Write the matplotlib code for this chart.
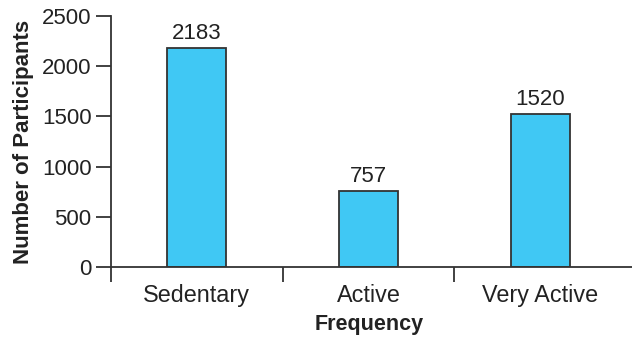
import matplotlib.pyplot as plt
import numpy as np

plt.rcParams['font.family'] = ['Liberation Sans', 'DejaVu Sans']

categories = ['Sedentary', 'Active', 'Very Active']
participants = [2183, 757, 1520]

bar_color = '#40c8f4'
line_color = '#333333'

fig = plt.figure(figsize=(6.32, 3.37), dpi=100)
ax = fig.add_axes([0.1756, 0.2077, 0.8244, 0.7448])

x = np.arange(len(categories))
bars = ax.bar(x, participants, width=0.345, color=bar_color,
              edgecolor=line_color, linewidth=1.3, zorder=2)

for xi, v in zip(x, participants):
    ax.text(xi, v + 40, str(v), ha='center', va='bottom',
            fontsize=16, color='#222222')

ax.set_xlim(-0.5, 2.534)
ax.set_ylim(0, 2500)
ax.set_yticks(np.arange(0, 2501, 500))

# labels in the middle of each slot, tick marks on the slot boundaries
ax.set_xticks(x)
ax.set_xticklabels(categories)
ax.set_xticks(np.arange(-0.5, len(categories) - 1, 1.0), minor=True)
ax.tick_params(axis='x', which='major', length=0, pad=12,
               labelsize=16.8, labelcolor='#222222')
ax.tick_params(axis='x', which='minor', length=11, width=1.3,
               color=line_color, direction='out')
ax.tick_params(axis='y', length=11, width=1.3, color=line_color,
               labelsize=16, labelcolor='#222222', pad=3)

for side in ['top', 'right']:
    ax.spines[side].set_visible(False)
for side in ['left', 'bottom']:
    ax.spines[side].set_color(line_color)
    ax.spines[side].set_linewidth(1.3)

ax.set_xlabel('Frequency', fontsize=15.5, fontweight='bold', color='#222222')
ax.xaxis.set_label_coords(0.495, -0.188)
ax.set_ylabel('Number of Participants', fontsize=16, fontweight='bold',
              color='#222222', labelpad=6)

fig.savefig('out.png', dpi=100)
